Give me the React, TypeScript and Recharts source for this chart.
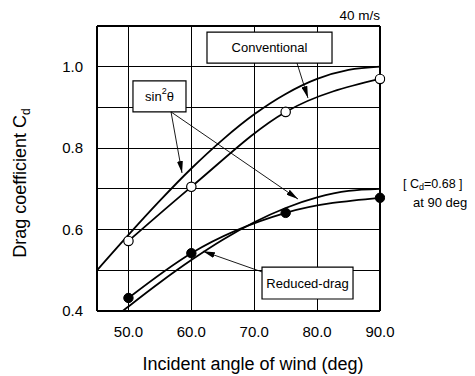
import React from "react";
import {
  LineChart,
  Line,
  XAxis,
  YAxis,
  CartesianGrid,
  ReferenceArea,
  ReferenceLine,
} from "recharts";

// ---- data ----
const measuredAngles = [50, 60, 75, 90];
const conventionalMeasured = [0.572, 0.705, 0.889, 0.97];
const reducedMeasured = [0.432, 0.542, 0.641, 0.678];

const curveAngles = [45, 50, 55, 60, 65, 70, 75, 80, 85, 90];
const conventionalSinCurve = [0.5, 0.587, 0.671, 0.75, 0.821, 0.883, 0.933, 0.97, 0.992, 1.0];
const reducedSinCurve = [0.35, 0.411, 0.47, 0.525, 0.575, 0.618, 0.653, 0.679, 0.695, 0.7];

const angleTicks = [50, 60, 70, 80, 90];
const angleGrid = [45, 50, 55, 60, 65, 70, 75, 80, 85, 90];
const cdTicks = [0.4, 0.6, 0.8, 1.0];
const cdGrid = [0.4, 0.5, 0.6, 0.7, 0.8, 0.9, 1.0, 1.1];

const toSeries = (xs: number[], ys: number[]) => xs.map((x, i) => ({ x, y: ys[i] }));

const convMeas = toSeries(measuredAngles, conventionalMeasured);
const redMeas = toSeries(measuredAngles, reducedMeasured);
const convSin = toSeries(curveAngles, conventionalSinCurve);
const redSin = toSeries(curveAngles, reducedSinCurve);

const FONT = "'Liberation Sans', Arial, Helvetica, sans-serif";

const gridLineStyle = {
  stroke: "#000",
  strokeWidth: 1,
  strokeOpacity: 1,
  shapeRendering: "crispEdges",
};

const BoxLabel = (text: React.ReactNode) => (props: any) => {
  const vb = props.viewBox || {};
  const cx = vb.x + vb.width / 2;
  const cy = vb.y + vb.height / 2;
  return (
    <text
      x={cx}
      y={cy}
      textAnchor="middle"
      dominantBaseline="central"
      fontFamily={FONT}
      fontSize={13}
      fill="#000"
    >
      {text}
    </text>
  );
};

export default function App() {
  return (
    <div style={{ position: "absolute", left: 0, top: 0, background: "#fff" }}>
      <LineChart
        width={475}
        height={376}
        margin={{ top: 26, right: 95, bottom: 0, left: 0 }}
        style={{ fontFamily: FONT }}
      >
        <defs>
          <marker
            id="arrowHead"
            markerUnits="userSpaceOnUse"
            markerWidth={12}
            markerHeight={6}
            refX={12}
            refY={3}
            orient="auto"
          >
            <path d="M0,0 L12,3 L0,6 z" fill="#000" />
          </marker>
        </defs>
        <CartesianGrid
          stroke="#000"
          strokeOpacity={1}
          strokeWidth={1}
          shapeRendering="crispEdges"
          horizontal={gridLineStyle}
          vertical={gridLineStyle}
          horizontalValues={cdGrid}
          verticalValues={angleGrid}
        />
        <XAxis
          type="number"
          dataKey="x"
          domain={[45, 90]}
          ticks={angleTicks}
          allowDataOverflow
          tickFormatter={(v: number) => v.toFixed(1)}
          tickLine={false}
          tickSize={6}
          tickMargin={9}
          axisLine={{ stroke: "#000", strokeWidth: 2 }}
          tick={{ fill: "#000", fontSize: 15, fontFamily: FONT }}
          height={65}
        />
        <YAxis
          type="number"
          dataKey="y"
          domain={[0.4, 1.1]}
          ticks={cdTicks}
          allowDataOverflow
          tickFormatter={(v: number) => v.toFixed(1)}
          tickLine={false}
          tickSize={6}
          tickMargin={8}
          axisLine={{ stroke: "#000", strokeWidth: 2 }}
          tick={{ fill: "#000", fontSize: 15, fontFamily: FONT }}
          width={97}
        />
        <ReferenceLine y={1.1} stroke="#000" strokeWidth={2} />
        <ReferenceLine x={90} stroke="#000" strokeWidth={2} />

        <Line
          data={convSin}
          dataKey="y"
          type="monotone"
          stroke="#000"
          strokeWidth={1.8}
          dot={false}
          isAnimationActive={false}
        />
        <Line
          data={redSin}
          dataKey="y"
          type="monotone"
          stroke="#000"
          strokeWidth={1.8}
          dot={false}
          isAnimationActive={false}
        />
        <Line
          data={convMeas}
          dataKey="y"
          type="monotone"
          stroke="#000"
          strokeWidth={1.8}
          dot={{ r: 4.7, fill: "#fff", stroke: "#000", strokeWidth: 1.2, clipDot: false }}
          isAnimationActive={false}
        />
        <Line
          data={redMeas}
          dataKey="y"
          type="monotone"
          stroke="#000"
          strokeWidth={1.8}
          dot={{ r: 4.7, fill: "#000", stroke: "#000", strokeWidth: 1, clipDot: false }}
          isAnimationActive={false}
        />

        {/* annotation arrows */}
        <ReferenceLine
          segment={[{ x: 76.8, y: 1.009 }, { x: 78.55, y: 0.923 }]}
          stroke="#000"
          strokeWidth={0.9}
          markerEnd="url(#arrowHead)"
          ifOverflow="visible"
        />
        <ReferenceLine
          segment={[{ x: 56.77, y: 0.889 }, { x: 58.52, y: 0.739 }]}
          stroke="#000"
          strokeWidth={0.9}
          markerEnd="url(#arrowHead)"
          ifOverflow="visible"
        />
        <ReferenceLine
          segment={[{ x: 56.77, y: 0.889 }, { x: 76.96, y: 0.675 }]}
          stroke="#000"
          strokeWidth={0.9}
          markerEnd="url(#arrowHead)"
          ifOverflow="visible"
        />
        <ReferenceLine
          segment={[{ x: 71.24, y: 0.496 }, { x: 61.85, y: 0.547 }]}
          stroke="#000"
          strokeWidth={0.9}
          markerEnd="url(#arrowHead)"
          ifOverflow="visible"
        />

        {/* annotation boxes */}
        <ReferenceArea
          x1={62.49}
          x2={82.37}
          y1={1.009}
          y2={1.085}
          fill="#fff"
          fillOpacity={1}
          stroke="#000"
          strokeWidth={1.2}
          ifOverflow="visible"
          label={BoxLabel("Conventional")}
        />
        <ReferenceArea
          x1={50.72}
          x2={59.15}
          y1={0.889}
          y2={0.965}
          fill="#fff"
          fillOpacity={1}
          stroke="#000"
          strokeWidth={1.2}
          ifOverflow="visible"
          label={BoxLabel(
            <>
              sin
              <tspan dy={-5} fontSize={9}>
                2
              </tspan>
              <tspan dy={5}>θ</tspan>
            </>
          )}
        />
        <ReferenceArea
          x1={71.24}
          x2={85.71}
          y1={0.4295}
          y2={0.508}
          fill="#fff"
          fillOpacity={1}
          stroke="#000"
          strokeWidth={1.2}
          ifOverflow="visible"
          label={BoxLabel("Reduced-drag")}
        />

        {/* free texts */}
        <text x={380} y={20} textAnchor="end" fontFamily={FONT} fontSize={13.5} fill="#000">
          40 m/s
        </text>
        <text x={403} y={188} fontFamily={FONT} fontSize={12.5} fill="#000">
          [ C<tspan fontSize={9} dy={2}>d</tspan>
          <tspan dy={-2}>=0.68 ]</tspan>
        </text>
        <text x={413} y={207} fontFamily={FONT} fontSize={13} fill="#000">
          at 90 deg
        </text>
        <text
          x={253}
          y={370}
          textAnchor="middle"
          fontFamily={FONT}
          fontSize={18}
          fill="#000"
        >
          Incident angle of wind (deg)
        </text>
        <text
          x={0}
          y={0}
          transform="translate(26,183) rotate(-90)"
          textAnchor="middle"
          fontFamily={FONT}
          fontSize={18}
          fill="#000"
        >
          Drag coefficient C<tspan fontSize={12} dy={4}>d</tspan>
        </text>
      </LineChart>
    </div>
  );
}
